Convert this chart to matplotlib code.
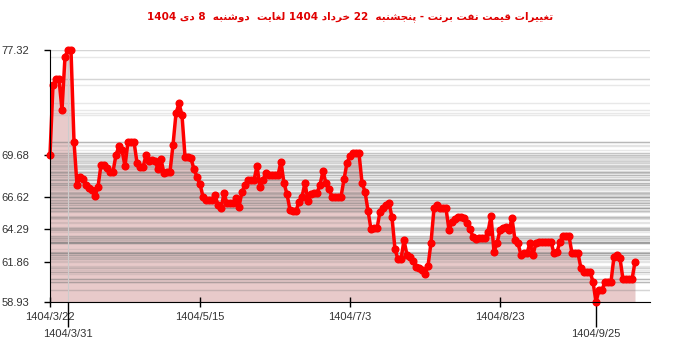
import re
import matplotlib
matplotlib.use('Agg')
import matplotlib.pyplot as plt

# Brent price values, one per data point (index on the x axis)
prices = [
    69.68, 74.77, 75.18, 75.18, 72.94, 76.83, 77.32, 77.32, 70.63, 67.47,
    68.05, 67.90, 67.47, 67.22, 67.10, 66.66, 67.34, 68.93, 68.90, 68.68,
    68.44, 68.44, 69.66, 70.31, 70.02, 68.85, 70.63, 70.63, 70.63, 69.09,
    68.80, 68.75, 69.66, 69.24, 69.30, 69.24, 68.61, 69.36, 68.32, 68.40,
    68.44, 70.39, 72.70, 73.43, 72.57, 69.53, 69.53, 69.41, 68.61, 68.07,
    67.54, 66.61, 66.37, 66.37, 66.37, 66.74, 66.01, 65.76, 66.86, 66.13,
    66.13, 66.13, 66.49, 65.88, 66.98, 67.47, 67.83, 67.83, 67.83, 68.85,
    67.34, 67.83, 68.36, 68.20, 68.20, 68.20, 68.20, 69.17, 67.59, 66.81,
    65.64, 65.60, 65.57, 66.25, 66.61, 67.63, 66.30, 66.81, 66.85, 66.90,
    67.47, 68.49, 67.59, 67.20, 66.61, 66.61, 66.61, 66.61, 67.88, 69.09,
    69.58, 69.78, 69.78, 69.78, 67.63, 66.98, 65.59, 64.23, 64.30, 64.30,
    65.52, 65.76, 66.00, 66.17, 65.11, 62.77, 62.04, 62.04, 63.45, 62.36,
    62.24, 61.90, 61.50, 61.38, 61.26, 60.95, 61.55, 63.26, 65.76, 66.01,
    65.76, 65.76, 65.76, 64.18, 64.79, 65.00, 65.15, 65.10, 65.03, 64.67,
    64.23, 63.70, 63.50, 63.58, 63.58, 63.58, 64.06, 65.20, 62.60, 63.21,
    64.18, 64.30, 64.42, 64.18, 65.03, 63.45, 63.21, 62.36, 62.48, 62.48,
    63.26, 62.36, 63.26, 63.30, 63.33, 63.33, 63.33, 63.33, 62.48, 62.60,
    63.33, 63.74, 63.74, 63.74, 62.48, 62.48, 62.48, 61.38, 61.14, 61.14,
    61.14, 60.41, 58.93, 59.80, 59.80, 60.41, 60.41, 60.41, 62.24, 62.36,
    62.12, 60.58, 60.58, 60.58, 60.58, 61.86,
]

y_ticks = [77.32, 69.68, 66.62, 64.29, 61.86, 58.93]
x_major_idx = [0, 50, 100, 150]
x_major_labels = ['1404/3/22', '1404/5/15', '1404/7/3', '1404/8/23']
x_minor_idx = [6, 182]
x_minor_labels = ['1404/3/31', '1404/9/25']

title = 'تغییرات قیمت نفت برنت - پنجشنبه  22 خرداد 1404 لغایت  دوشنبه  8 دی 1404'

# matplotlib has no Arabic shaping, so join letters by hand
FORMS = {
    'ا': ('\uFE8D', '\uFE8E', None, None),
    'ب': ('\uFE8F', '\uFE90', '\uFE91', '\uFE92'),
    'پ': ('\uFB56', '\uFB57', '\uFB58', '\uFB59'),
    'ت': ('\uFE95', '\uFE96', '\uFE97', '\uFE98'),
    'ج': ('\uFE9D', '\uFE9E', '\uFE9F', '\uFEA0'),
    'خ': ('\uFEA5', '\uFEA6', '\uFEA7', '\uFEA8'),
    'د': ('\uFEA9', '\uFEAA', None, None),
    'ر': ('\uFEAD', '\uFEAE', None, None),
    'ش': ('\uFEB5', '\uFEB6', '\uFEB7', '\uFEB8'),
    'غ': ('\uFECD', '\uFECE', '\uFECF', '\uFED0'),
    'ف': ('\uFED1', '\uFED2', '\uFED3', '\uFED4'),
    'ق': ('\uFED5', '\uFED6', '\uFED7', '\uFED8'),
    'ل': ('\uFEDD', '\uFEDE', '\uFEDF', '\uFEE0'),
    'م': ('\uFEE1', '\uFEE2', '\uFEE3', '\uFEE4'),
    'ن': ('\uFEE5', '\uFEE6', '\uFEE7', '\uFEE8'),
    'ه': ('\uFEE9', '\uFEEA', '\uFEEB', '\uFEEC'),
    'و': ('\uFEED', '\uFEEE', None, None),
    'ی': ('\uFBFC', '\uFBFD', '\uFBFE', '\uFBFF'),
}


def rtl(text):
    out = []
    for i, ch in enumerate(text):
        if ch not in FORMS:
            out.append(ch)
            continue
        prev = text[i - 1] if i > 0 else None
        nxt = text[i + 1] if i + 1 < len(text) else None
        join_prev = prev in FORMS and FORMS[prev][2] is not None
        join_next = nxt in FORMS and FORMS[ch][2] is not None
        iso, fin, ini, med = FORMS[ch]
        if join_prev and join_next:
            out.append(med)
        elif join_prev:
            out.append(fin)
        elif join_next:
            out.append(ini)
        else:
            out.append(iso)
    vis = ''.join(out)[::-1]
    return re.sub(r'[0-9]+', lambda m: m.group(0)[::-1], vis)


plt.rcParams['font.family'] = ['Liberation Sans', 'DejaVu Sans']

fig = plt.figure(figsize=(7, 3.52), dpi=100)
ax = fig.add_axes([50 / 700, 50 / 352, 600 / 700, 252 / 352])

x = list(range(len(prices)))

# horizontal guide line at every value
for v in prices:
    ax.axhline(v, color='#7a7a7a', alpha=0.17, lw=1.0, zorder=2)

ax.fill_between(x, prices, 58.93, color='#e8caca', lw=0, zorder=1)
ax.axvline(x_minor_idx[0], color='#cccccc', lw=0.8, zorder=2)

ax.plot(x, prices, color='#ff0000', lw=2.5, marker='o', markersize=4.8,
        zorder=4, clip_on=False)

ax.set_xlim(0, 200)
ax.set_ylim(58.93, 77.32)

ax.set_yticks(y_ticks)
ax.set_yticklabels([f'{v:.2f}' for v in y_ticks])
ax.set_xticks(x_major_idx)
ax.set_xticklabels(x_major_labels)
ax.set_xticks(x_minor_idx, minor=True)
ax.set_xticklabels(x_minor_labels, minor=True)

ax.tick_params(axis='y', direction='out', length=4, width=1, labelsize=8,
               labelcolor='#333333', pad=11)
ax.tick_params(axis='x', which='major', direction='inout', length=7, width=1,
               labelsize=8, labelcolor='#333333', pad=4)
ax.tick_params(axis='x', which='minor', direction='out', length=18, width=1,
               labelsize=8, labelcolor='#333333', pad=1.5)
minor = ax.xaxis.get_minor_ticks()
minor[0].tick1line.set_color('#cccccc')
minor[1].tick1line.set_color('black')

for side in ['top', 'right']:
    ax.spines[side].set_visible(False)
ax.spines['left'].set_zorder(5)
ax.spines['bottom'].set_zorder(5)

fig.text(0.5, 1 - 17 / 352, rtl(title), ha='center', va='center', color='#e00000',
         fontsize=7.5, fontweight='bold', family=['DejaVu Sans'])

fig.savefig('out.png', dpi=100)
